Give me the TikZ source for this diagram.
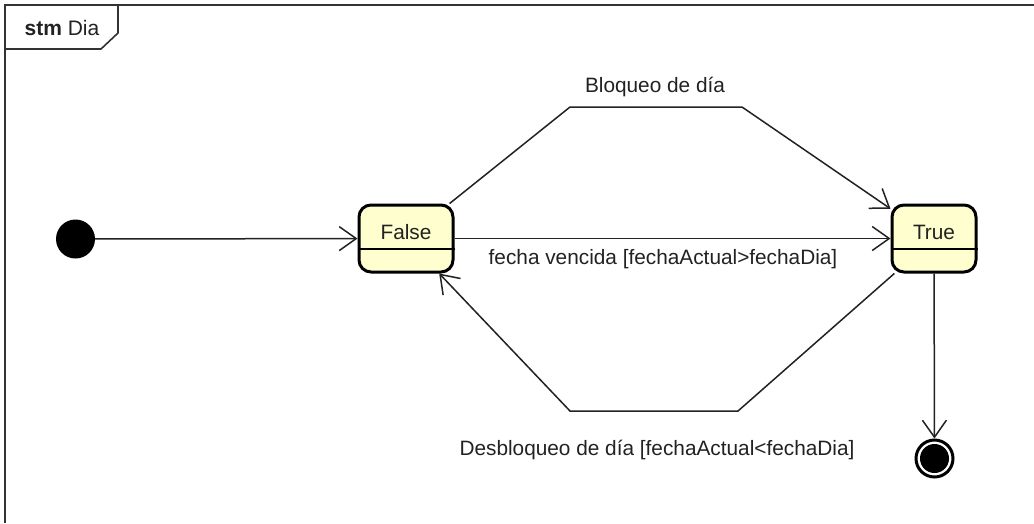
\documentclass[tikz,border=0pt]{standalone}
\usepackage{fontspec}
\setmainfont{Liberation Sans}
\usetikzlibrary{arrows.meta}
\definecolor{statefill}{HTML}{FEFECE}
\definecolor{ink}{HTML}{222222}
\tikzset{
  stm/.style={draw=black, line width=3pt, fill=statefill, rounded corners=12pt,
    minimum width=#1, minimum height=67pt, inner sep=0pt},
  statename/.style={text=ink, inner sep=0pt, font=\fontsize{20.8}{24}\selectfont},
  lbl/.style={text=ink, inner sep=0pt, font=\fontsize{20.8}{24}\selectfont},
  trans/.style={draw=ink, line width=1.5pt,
    -{Straight Barb[length=17pt, width=24pt, line width=1.5pt]}},
  frameline/.style={draw=black!80, line width=1.6pt},
}
\begin{document}
\begin{tikzpicture}[x=1pt, y=-1pt]
  \useasboundingbox (0,0) rectangle (1034,523);
  \fill[white] (0,0) rectangle (1034,523);

  % diagram frame and its name tab
  \draw[frameline] (1034,5) -- (5,5) -- (5,523);
  \draw[frameline] (5,49) -- (101,49) -- (118,33) -- (118,5);
  \node[lbl, font=\fontsize{21}{24}\selectfont] (title) at (62,28) {\textbf{stm} Dia};

  % states
  \node[stm=94pt] (F) at (406,238.5) {};
  \draw[black, line width=1.5pt] (F.west |- 0,249) -- (F.east |- 0,249);
  \node[statename] (Fname) at (406,232) {False};

  \node[stm=84pt] (T) at (934,238.5) {};
  \draw[black, line width=1.5pt] (T.west |- 0,249) -- (T.east |- 0,249);
  \node[statename] (Tname) at (934,232) {True};

  % pseudo states
  \node[circle, fill=black, minimum size=39pt, inner sep=0pt] (I) at (75.5,239) {};
  \node[circle, draw=black, line width=3pt, fill=white, minimum size=37pt, inner sep=0pt] (E) at (934.5,458.5) {};
  \fill[black] (E.center) circle[radius=14.5pt];

  % bend points of the upper and lower transitions
  \coordinate (b1) at (570,107);
  \coordinate (b2) at (742,107);
  \coordinate (d1) at (738,411);
  \coordinate (d2) at (570,411);

  % transitions
  \draw[trans] (I) -- (F);
  \draw[trans] (F) -- (b1) -- (b2) -- (T);
  \draw[trans] (F) -- (T);
  \draw[trans] (T) -- (d1) -- (d2) -- (F);
  \draw[trans] (T) -- (E);

  % transition labels
  \node[lbl] (lb) at (655,87) {Bloqueo de día};
  \node[lbl] (lf) at (663,259) {fecha vencida [fechaActual>fechaDia]};
  \node[lbl] (ld) at (657,450) {Desbloqueo de día [fechaActual<fechaDia]};
\end{tikzpicture}
\end{document}
